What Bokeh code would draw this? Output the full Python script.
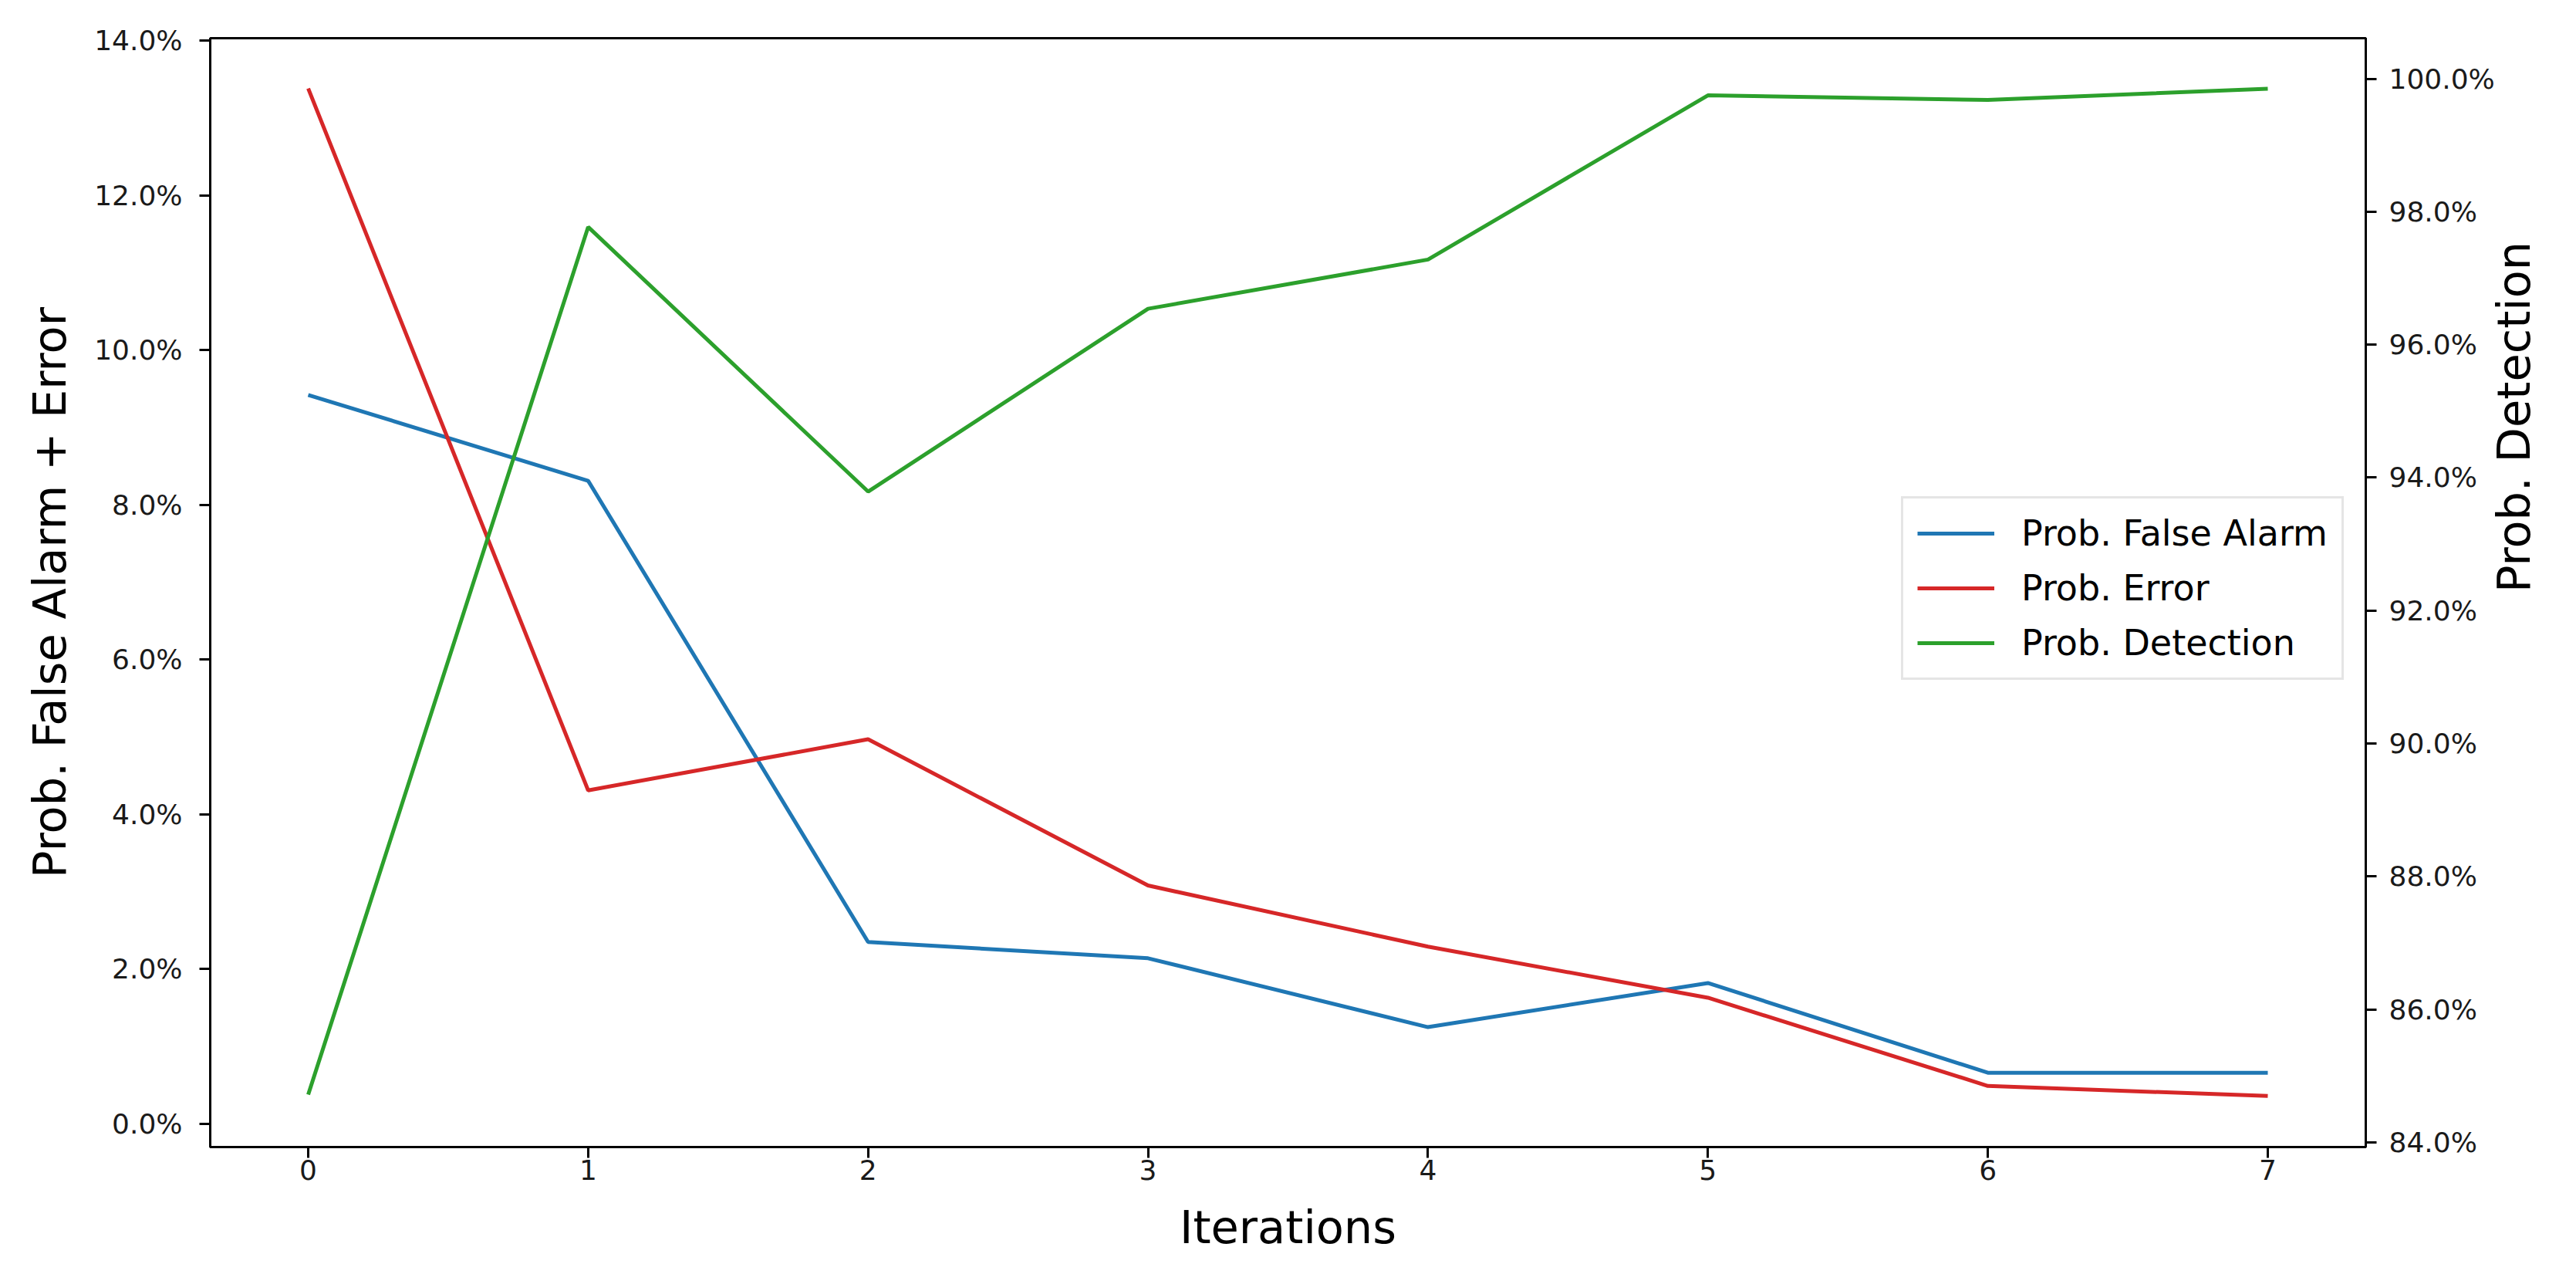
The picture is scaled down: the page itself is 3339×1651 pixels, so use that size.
import math
from bokeh.plotting import figure
from bokeh.models import (Range1d, LinearAxis, FixedTicker, PrintfTickFormatter,
                          Legend, LegendItem)
from bokeh.embed import file_html
from bokeh.resources import INLINE

# ---- data ----
iterations = [0, 1, 2, 3, 4, 5, 6, 7]
false_alarm = [9.42, 8.31, 2.35, 2.14, 1.25, 1.82, 0.66, 0.66]
prob_error = [13.38, 4.31, 4.97, 3.08, 2.29, 1.63, 0.49, 0.36]
detection = [84.72, 97.77, 93.79, 96.54, 97.28, 99.75, 99.68, 99.85]

left_ticks = [0, 2, 4, 6, 8, 10, 12, 14]
right_ticks = [84, 86, 88, 90, 92, 94, 96, 98, 100]
x_ticks = iterations

FONT = "DejaVu Sans"
TICK_FS = "36px"
LABEL_FS = "59px"
LEGEND_FS = "46px"

W, H = 3331, 1635
p = figure(width=W, height=H, output_backend="svg", toolbar_location=None,
           x_range=Range1d(-0.35, 7.35), y_range=Range1d(-0.30, 14.03),
           x_axis_location=None, y_axis_location=None,
           min_border_left=272, min_border_right=265,
           min_border_top=49, min_border_bottom=149)
p.extra_y_ranges = {"right": Range1d(83.93, 100.61)}
p.xgrid.visible = False
p.ygrid.visible = False
p.outline_line_color = "black"
p.outline_line_width = 3
p.background_fill_color = "white"
p.border_fill_color = "white"


def style_axis(ax):
    ax.axis_line_color = "black"
    ax.axis_line_width = 3
    ax.major_tick_line_color = "black"
    ax.major_tick_line_width = 3
    ax.major_tick_out = 14
    ax.major_tick_in = 0
    ax.minor_tick_line_color = None
    ax.major_label_text_font = FONT
    ax.major_label_text_font_size = TICK_FS
    ax.major_label_text_color = "#1a1a1a"
    ax.axis_label_text_font = FONT
    ax.axis_label_text_font_size = LABEL_FS
    ax.axis_label_text_font_style = "normal"
    ax.axis_label_text_color = "black"


xaxis = LinearAxis(ticker=FixedTicker(ticks=x_ticks), axis_label="Iterations")
style_axis(xaxis)
xaxis.major_label_standoff = 2
xaxis.axis_label_standoff = 24
p.add_layout(xaxis, "below")

yaxis = LinearAxis(ticker=FixedTicker(ticks=left_ticks),
                   formatter=PrintfTickFormatter(format="%.1f%%"),
                   axis_label="Prob. False Alarm + Error")
style_axis(yaxis)
yaxis.major_label_standoff = 22
yaxis.axis_label_standoff = 20
p.add_layout(yaxis, "left")

raxis = LinearAxis(y_range_name="right", ticker=FixedTicker(ticks=right_ticks),
                   formatter=PrintfTickFormatter(format="%.1f%%"),
                   axis_label="Prob. Detection")
style_axis(raxis)
raxis.major_label_standoff = 16
raxis.axis_label_standoff = 22
# read bottom-to-top, like the left-hand title
raxis.axis_label_orientation = math.pi / 2
p.add_layout(raxis, "right")

r_fa = p.line(iterations, false_alarm, line_color="#1f77b4", line_width=5)
r_er = p.line(iterations, prob_error, line_color="#d62728", line_width=5)
r_de = p.line(iterations, detection, line_color="#2ca02c", line_width=5,
              y_range_name="right")

legend = Legend(items=[LegendItem(label="Prob. False Alarm", renderers=[r_fa]),
                       LegendItem(label="Prob. Error", renderers=[r_er]),
                       LegendItem(label="Prob. Detection", renderers=[r_de])],
                location=(2192, 605))
legend.margin = 0
legend.padding = 18
legend.spacing = 17
legend.glyph_width = 100
legend.glyph_height = 40
legend.label_standoff = 35
legend.label_text_font = FONT
legend.label_text_font_size = LEGEND_FS
legend.label_text_color = "black"
legend.border_line_color = "#cccccc"
legend.border_line_width = 3
legend.background_fill_color = "white"
legend.background_fill_alpha = 0.8
p.add_layout(legend, "center")

open("out.html", "w").write(file_html(p, INLINE))
